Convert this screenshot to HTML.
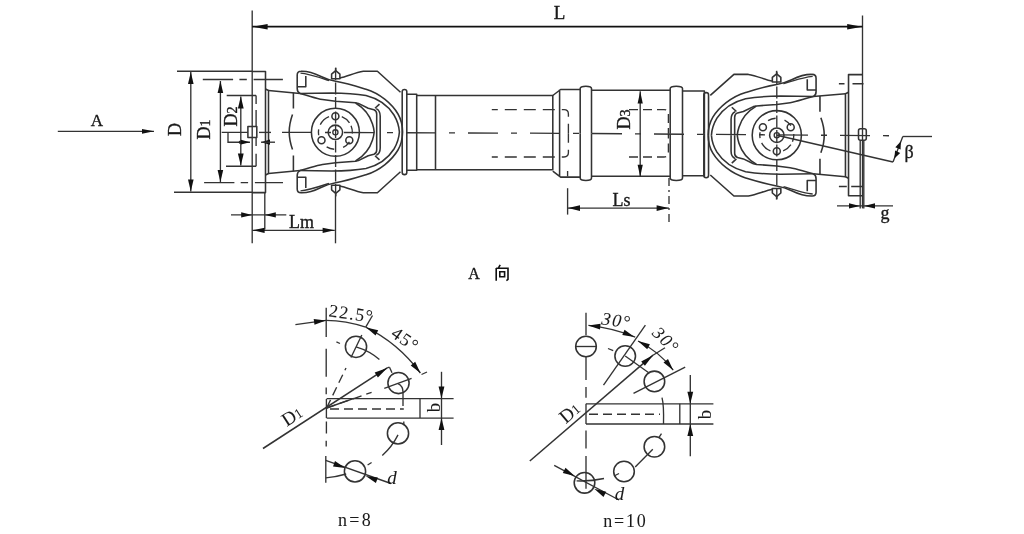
<!DOCTYPE html>
<html><head><meta charset="utf-8"><style>
html,body{margin:0;padding:0;background:#fff;overflow:hidden;}
svg{display:block;will-change:transform;}
.s{fill:none;stroke:#333;stroke-width:1.55;stroke-linejoin:round;}
.t{fill:none;stroke:#333;stroke-width:1.35;}
.L{fill:none;stroke:#111;stroke-width:1.7;}
.f{fill:#111;stroke:none;}
.d2{fill:none;stroke:#333;stroke-width:1.35;stroke-dasharray:9 5;}
.d3{fill:none;stroke:#333;stroke-width:1.35;stroke-dasharray:8 4 2 4;}
.c8{fill:none;stroke:#333;stroke-width:1.35;stroke-dasharray:27 9 6 9;}
.K{fill:none;stroke:#111;stroke-width:1.6;}
.c{fill:none;stroke:#333;stroke-width:1.35;stroke-dasharray:30 13 6 13;}
text{font-family:"Liberation Serif",serif;fill:#1a1a1a;stroke:#1a1a1a;stroke-width:0.35;}
text.lt{stroke-width:0.05;}
</style></head><body>
<svg width="1024" height="534" viewBox="0 0 1024 534">
<defs><g id="yt">
<path class="s" d="M252,71.4 H265.5 V132"/>
<path class="s" d="M265.5,89 L268.5,90.5 V132"/>
<path class="s" d="M268.5,90.5 L300,93.4"/>
<path class="s" d="M305.8,76 V86.8 H297.2"/>
<path class="s" d="M300,93.4 C298,92.5 297.2,90.5 297.2,88.5 V75 C297.2,72.6 298.6,71.2 301,71.2 C307,71 314,73 321,76.5 C326,79 330,80.3 335.7,81.3 C348,83.5 357,86.5 366,89.3 C380,93.5 392,104 398,114 C401.5,120 402.5,126 402.6,132"/>
<path class="t" d="M300.5,73.2 C308,73.6 318,77 329,80.6"/>
<path class="s" d="M339.9,77.9 C347,76.5 355,72.5 363.3,71.2 L377.4,71.2 L400.5,92.2"/>
<path class="s" d="M331.6,78.8 V74.2 L335.7,70.6 L339.9,74.2 V78.8 Z" fill="#fff"/>
<path class="s" d="M335.7,70.6 V67.6"/>
<path class="s" d="M300,93.4 L331.8,92.9 C345,93 357,94 366,95.5 C380,99 389,107 394,115 C397.5,121 399,126 399.4,132"/>
<path class="s" d="M300,93.4 C310,96 316,98.5 322.5,99.5 L335.6,101.3 L355.3,102.7 L358.4,103.4 L368.2,108.3 L373.9,109.7 C376,110.5 376.7,112 376.7,114 V132"/>
<path class="s" d="M355.6,103 C364,108 370,116 372.5,124 C373.5,127 374,130 374.2,132"/>
<path class="s" d="M375,108.3 L379.5,104.1"/>
<path class="s" d="M376.2,108.6 C379,110 380.2,112 380.2,116 V132"/>
<path class="s" d="M293.4,92.8 V108.5 M292.5,114.5 C290.2,121 289.2,127 289.2,132"/>
<path class="s" d="M402.2,132 V91.6 Q402.2,89.4 404.5,89.4 Q406.8,89.4 406.8,91.6 V132"/>
</g></defs>
<g transform=""><use href="#yt"/><use href="#yt" transform="translate(0,264) scale(1,-1)"/></g>
<g transform="translate(1120.4,3.2) scale(-1.024,1)"><use href="#yt"/><use href="#yt" transform="translate(0,264) scale(1,-1)"/></g>
<circle class="s" cx="335.4" cy="132.3" r="24.0"/>
<circle class="s" cx="335.4" cy="132.3" r="7.2"/>
<circle class="t" cx="335.4" cy="132.3" r="2.6"/>
<path class="t" d="M320.25,124.58 A17,17 0 0 1 329.03,116.54 M341.77,116.54 A17,17 0 0 1 349.49,122.79 M351.05,125.66 A17,17 0 0 1 352.36,133.49 M349.49,141.81 A17,17 0 0 1 343.12,147.45 M334.21,149.26 A17,17 0 0 1 326.64,146.87 M318.66,135.25 A17,17 0 0 1 318.66,129.35 "/>
<circle class="s" cx="335.4" cy="116.3" r="3.5" fill="#fff"/>
<circle class="s" cx="349.3" cy="140.3" r="3.5" fill="#fff"/>
<circle class="s" cx="321.5" cy="140.3" r="3.5" fill="#fff"/>
<circle class="s" cx="776.8" cy="135.2" r="24.6"/>
<circle class="s" cx="776.8" cy="135.2" r="7.2"/>
<circle class="t" cx="776.8" cy="135.2" r="2.6"/>
<path class="t" d="M770.43,150.96 A17,17 0 0 1 761.65,142.92 M790.89,144.71 A17,17 0 0 1 783.17,150.96 M793.76,134.01 A17,17 0 0 1 792.45,141.84 M784.52,120.05 A17,17 0 0 1 790.89,125.69 M768.04,120.63 A17,17 0 0 1 775.61,118.24 M760.06,138.15 A17,17 0 0 1 760.06,132.25 "/>
<circle class="s" cx="776.8" cy="151.2" r="3.5" fill="#fff"/>
<circle class="s" cx="790.7" cy="127.2" r="3.5" fill="#fff"/>
<circle class="s" cx="762.9" cy="127.2" r="3.5" fill="#fff"/>
<path class="s" d="M416.7,95.4 H552.8 V169.7 H416.7"/>
<path class="s" d="M435.5,95.4 V169.7"/>
<path class="s" d="M406.8,94.3 H416.7 V170.2 H406.8"/>
<defs><g id="sl">
<path class="s" d="M552.8,95.5 L560.6,89.5 H580.2 M559.6,89.5 V133.3"/>
<path class="s" d="M580.2,133.3 V88.6 Q580.2,86.2 585.9,86.2 Q591.5,86.2 591.5,88.6 V133.3"/>
<path class="s" d="M591.5,90.3 H670.2"/>
<path class="s" d="M670.2,133.3 V88.6 Q670.2,86.2 676.3,86.2 Q682.5,86.2 682.5,88.6 V133.3"/>
<path class="s" d="M682.5,90.9 H704.4 V133.3"/>
<path class="d2" style="stroke-dasharray:12 7;stroke-dashoffset:6" d="M491.8,109.6 H564 Q568.4,109.6 568.4,114 V133.3"/>
<path class="d2" d="M629,109.6 H664 Q668.4,109.6 668.4,114 V133.3"/>
</g></defs>
<use href="#sl"/><use href="#sl" transform="translate(0,266.6) scale(1,-1)"/>
<path class="c" d="M282,132.3 L560,133.3 L900,135.8"/>
<path class="t" d="M259,132.4 H271"/>
<path class="t" style="stroke-dasharray:12 2.5" d="M335.6,68 V196"/>
<path class="t" style="stroke-dasharray:12 2.5" d="M776.8,72 V199"/>
<path class="t" d="M335.5,196.0 L335.5,243.3"/>
<path class="t" d="M252.2,10.5 L252.2,243.3"/>
<path class="t" d="M862.5,15.5 L862.5,208.4"/>
<path class="L" d="M252.2,26.7 L862.5,26.7"/>
<path class="f" d="M252.6,26.7 L267.6,23.9 L267.6,29.5 Z"/>
<path class="f" d="M862.2,26.7 L847.2,29.5 L847.2,23.9 Z"/>
<path class="s" d="M177.0,71.3 L252.0,71.3"/>
<path class="s" d="M174.0,192.3 L252.0,192.3"/>
<path class="t" d="M190.8,72.0 L190.8,191.5"/>
<path class="f" d="M190.8,72.0 L193.6,84.0 L188.0,84.0 Z"/>
<path class="f" d="M190.8,191.5 L188.0,179.5 L193.6,179.5 Z"/>
<path class="t" style="stroke-dasharray:30.3 6.3 7.4 6.8 29.3 100" d="M202.8,79.5 H283 M204.1,182.6 H283"/>
<path class="t" d="M220.4,81.0 L220.4,182.0"/>
<path class="f" d="M220.4,81.0 L223.2,93.0 L217.6,93.0 Z"/>
<path class="f" d="M220.4,182.0 L217.6,170.0 L223.2,170.0 Z"/>
<path class="t" d="M226.7,95.5 H256.1 M226,166.2 H256.1"/>
<path class="t" d="M256.1,95.5 V104 M256.1,110 V126.3 M256.1,137.6 V146 M256.1,153.7 V166.2"/>
<path class="t" d="M240.8,96.5 L240.8,165.5"/>
<path class="f" d="M240.8,96.5 L243.7,108.5 L237.9,108.5 Z"/>
<path class="f" d="M240.8,165.5 L237.9,153.5 L243.7,153.5 Z"/>
<rect class="s" x="247.9" y="126.5" width="8.9" height="11" fill="#fff"/>
<path class="t" d="M221.7,132.4 H247.9 M228,132.4 V142.2 H250"/>
<circle cx="240.4" cy="142.2" r="1.7" fill="#222"/>
<path class="f" d="M250.0,142.2 L241.0,144.6 L241.0,139.8 Z"/>
<path class="f" d="M261.0,142.2 L270.0,139.6 L270.0,144.8 Z"/>
<path class="t" d="M261.0,142.2 L275.0,142.2"/>
<path class="t" d="M57.8,131.3 L154.0,131.3"/>
<path class="f" d="M154.0,131.3 L142.0,133.7 L142.0,128.9 Z"/>
<path class="t" d="M264.8,192.3 L264.8,229.6"/>
<path class="t" d="M231.0,214.9 L286.3,214.9"/>
<path class="f" d="M252.2,214.9 L241.2,217.5 L241.2,212.3 Z"/>
<path class="f" d="M264.8,214.9 L275.8,212.3 L275.8,217.5 Z"/>
<path class="t" d="M252.2,230.3 L334.8,230.3"/>
<path class="f" d="M252.6,230.3 L264.6,227.7 L264.6,232.9 Z"/>
<path class="f" d="M334.6,230.3 L322.6,232.9 L322.6,227.7 Z"/>
<path class="t" d="M838.9,83.7 H844.5 M852.5,83.7 H863.5 M838.9,186.5 H846.8 M851.2,186.5 H862.6"/>
<rect class="s" x="858.5" y="128.7" width="7.8" height="11.5" rx="2" fill="#fff"/>
<path class="t" d="M860.2,140.2 V208.4 M863.8,140.2 V208.4"/>
<path class="t" d="M837.0,205.9 L893.0,205.9"/>
<path class="f" d="M860.0,205.9 L849.0,208.5 L849.0,203.3 Z"/>
<path class="f" d="M864.0,205.9 L875.0,203.3 L875.0,208.5 Z"/>
<path class="s" d="M776.8,135.2 L893.0,162.0"/>
<path class="t" d="M893.0,162.0 L902.8,136.5"/>
<path class="t" d="M902.8,136.5 L932.0,136.5"/>
<path class="f" d="M900.8,141.5 L900.6,149.5 L895.3,147.3 Z"/>
<path class="f" d="M894.3,158.5 L895.1,150.5 L900.2,153.1 Z"/>
<path class="t" d="M567.6,188.2 L567.6,214.6"/>
<path class="t" d="M567.6,171.0 L567.6,176.5"/>
<path class="d3" d="M669,178 V222"/>
<path class="t" d="M567.6,208.1 L669.0,208.1"/>
<path class="f" d="M568.0,208.1 L580.0,205.2 L580.0,211.0 Z"/>
<path class="f" d="M668.6,208.1 L656.6,211.0 L656.6,205.2 Z"/>
<path class="t" d="M640.2,91.3 L640.2,176.9"/>
<path class="f" d="M640.2,91.5 L642.8,103.5 L637.6,103.5 Z"/>
<path class="f" d="M640.2,176.7 L637.6,164.7 L642.8,164.7 Z"/>
<text x="559.5" y="12.5" font-size="19" text-anchor="middle" dominant-baseline="central">L</text>
<text x="97" y="120" font-size="17" text-anchor="middle" dominant-baseline="central">A</text>
<text x="175" y="129.5" font-size="18" text-anchor="middle" dominant-baseline="central" transform="rotate(-90 175 129.5)">D</text>
<text x="204" y="129.5" font-size="18" text-anchor="middle" dominant-baseline="central" transform="rotate(-90 204 129.5)">D<tspan font-size="14" dy="0.5">1</tspan></text>
<text x="231" y="116.5" font-size="18" text-anchor="middle" dominant-baseline="central" transform="rotate(-90 231 116.5)">D<tspan font-size="14" dy="0.5">2</tspan></text>
<text x="624" y="119.5" font-size="18" text-anchor="middle" dominant-baseline="central" transform="rotate(-90 624 119.5)">D<tspan font-size="14" dy="0.5">3</tspan></text>
<text x="301.5" y="222" font-size="18" text-anchor="middle" dominant-baseline="central">Lm</text>
<text x="621.5" y="200" font-size="18" text-anchor="middle" dominant-baseline="central">Ls</text>
<text x="885" y="213" font-size="18" text-anchor="middle" dominant-baseline="central">g</text>
<text x="909" y="152" font-size="18" text-anchor="middle" dominant-baseline="central">β</text>
<text x="474" y="273.5" font-size="16" text-anchor="middle" dominant-baseline="central">A</text>
<path class="t" d="M326.2,307.7 V337 M326.2,348.7 V376.7 M326.2,387.5 V394.3 M326.4,399 V418 M326.4,421.6 V433.4 M326.2,440.7 V446.6"/>
<path class="t" d="M325.8,456.0 L325.8,482.7"/>
<path class="t" d="M326,320.4 Q346,320.6 365.7,327.2"/>
<path class="t" d="M365.7,327.2 Q398,343 420.4,373"/>
<path class="t" d="M295.4,324.7 L326.0,320.4"/>
<path class="f" d="M326.0,320.4 L314.5,324.8 L313.7,319.1 Z"/>
<path class="f" d="M366.2,327.4 L378.2,330.3 L375.6,335.4 Z"/>
<path class="f" d="M420.4,373.0 L410.7,365.4 L415.2,361.8 Z"/>
<path class="t" d="M365.7,327.2 L372.5,315.5"/>
<path class="t" d="M421.5,374.5 L427.0,372.0"/>
<circle class="s" cx="356" cy="346.8" r="10.6"/>
<circle class="s" cx="398.5" cy="383" r="10.6"/>
<circle class="s" cx="398" cy="433.4" r="10.6"/>
<circle class="s" cx="355" cy="471.4" r="10.6"/>
<path class="t" d="M351.0,357.5 L361.8,335.0"/>
<path class="t" d="M336.4,341.9 L340.0,343.5"/>
<path class="t" d="M356,346.8 Q370,351 379.4,359.5"/>
<path class="t" d="M384.3,388.4 L411.6,378.3"/>
<path class="t" d="M387.2,367.9 L389.5,367.2"/>
<path class="t" d="M389.5,367.2 L392.0,372.8"/>
<path class="t" d="M398,383.6 Q403,386 403,392 V406"/>
<path class="t" d="M382.3,455.4 Q392,447 398,434.9"/>
<path class="t" d="M403.8,421.6 L403.8,425.0"/>
<path class="t" d="M326.6,398.6 L453.6,398.6"/>
<path class="t" d="M326.6,418.1 L453.6,418.1"/>
<path class="t" d="M420.0,398.6 L420.0,418.1"/>
<path class="d2" d="M330,409 H403.8"/>
<path class="t" d="M326.6,408.0 L354.0,398.4"/>
<path class="s" d="M263.0,448.5 L387.2,367.9"/>
<path class="f" d="M387.2,367.9 L377.9,377.4 L374.7,372.6 Z"/>
<path class="d2" d="M326.6,408 L346,368"/>
<path class="d2" d="M326.6,408 L371.6,392.3"/>
<path class="t" d="M441.5,371.8 L441.5,445.0"/>
<path class="f" d="M441.5,398.6 L438.6,386.6 L444.4,386.6 Z"/>
<path class="f" d="M441.5,418.1 L444.4,430.1 L438.6,430.1 Z"/>
<path class="t" d="M325.7,460.3 L391.0,483.5"/>
<path class="f" d="M345.2,468.0 L333.0,466.4 L335.0,461.1 Z"/>
<path class="f" d="M365.7,475.9 L377.9,477.5 L375.9,482.9 Z"/>
<path class="t" d="M325.7,477.9 Q336,477 346.2,474"/>
<path class="t" d="M367.6,465.0 L371.6,462.5"/>
<path class="t" d="M586,312.7 V335.2 M586,357 V380 M586,387 V397.7 M586,403.8 V424 M586,430.5 V448.4 M586,456 V488.7"/>
<circle class="s" cx="586" cy="346.5" r="10.3"/>
<circle class="s" cx="625.2" cy="356" r="10.3"/>
<circle class="s" cx="654.4" cy="381.4" r="10.3"/>
<circle class="s" cx="654.4" cy="446.7" r="10.3"/>
<circle class="s" cx="624" cy="471.5" r="10.3"/>
<circle class="s" cx="584.5" cy="482.8" r="10.3"/>
<path class="t" d="M575.5,346.5 L596.5,346.5"/>
<path class="t" d="M588.4,325.4 Q613,328 635.2,337.1"/>
<path class="t" d="M638,341 Q660,352 673.2,370.2"/>
<path class="f" d="M588.4,325.4 L600.6,323.8 L600.0,329.6 Z"/>
<path class="f" d="M634.5,337.0 L622.3,335.1 L624.5,329.8 Z"/>
<path class="f" d="M638.0,341.0 L649.9,344.2 L647.2,349.2 Z"/>
<path class="f" d="M673.2,370.2 L663.5,362.5 L668.0,359.0 Z"/>
<path class="t" d="M603.5,385.2 L645.4,325.2"/>
<path class="t" d="M625.2,356.0 L648.4,372.5"/>
<path class="t" d="M633.5,393.4 L685.2,367.2"/>
<path class="t" d="M608.0,348.5 L613.2,350.7"/>
<path class="s" d="M529.8,461.0 L653.0,355.2"/>
<path class="t" d="M653.0,355.2 L665.0,347.7"/>
<path class="f" d="M653.0,355.2 L644.9,365.8 L641.2,361.4 Z"/>
<path class="t" d="M586.0,403.8 L713.4,403.8"/>
<path class="t" d="M586.0,424.0 L713.4,424.0"/>
<path class="d2" d="M589,414.2 H660"/>
<path class="t" d="M662,397.6 Q664,405 663.5,424"/>
<path class="t" d="M679.8,403.8 L679.8,424.0"/>
<path class="t" d="M690.3,375.0 L690.3,456.2"/>
<path class="f" d="M690.3,403.8 L687.4,391.8 L693.2,391.8 Z"/>
<path class="f" d="M690.3,424.0 L693.2,436.0 L687.4,436.0 Z"/>
<path class="t" d="M635.2,467.0 L652.8,449.3"/>
<path class="t" d="M659.2,437.2 L661.5,433.6"/>
<path class="t" d="M614.0,476.0 L619.0,473.5"/>
<path class="t" d="M554.2,465.3 L619.0,500.0"/>
<path class="f" d="M574.7,476.0 L562.8,472.9 L565.5,467.8 Z"/>
<path class="f" d="M594.2,488.7 L606.2,491.8 L603.5,496.9 Z"/>
<path class="t" d="M576.6,480.9 Q590,481.5 604,478.5"/>
<text x="351.5" y="313.5" font-size="18" text-anchor="middle" dominant-baseline="central" transform="rotate(8 351.5 313.5)" class="lt" letter-spacing="1.3">22.5°</text>
<text x="405.5" y="339.5" font-size="18" text-anchor="middle" dominant-baseline="central" transform="rotate(35 405.5 339.5)" class="lt" letter-spacing="1.5">45°</text>
<text x="292" y="416" font-size="19" text-anchor="middle" dominant-baseline="central" transform="rotate(-33 292 416)" class="lt">D<tspan font-size="14" dy="1">1</tspan></text>
<text x="433" y="407.5" font-size="19" text-anchor="middle" dominant-baseline="central" transform="rotate(-90 433 407.5)" class="lt">b</text>
<text x="392" y="477.5" font-size="19" text-anchor="middle" dominant-baseline="central" font-style="italic" class="lt">d</text>
<text x="355.5" y="519.5" font-size="18" text-anchor="middle" dominant-baseline="central" class="lt" letter-spacing="2.2">n=8</text>
<text x="616.6" y="320.5" font-size="18" text-anchor="middle" dominant-baseline="central" font-style="italic" transform="rotate(8 616.6 320.5)" class="lt" letter-spacing="1.5">30°</text>
<text x="666" y="340.2" font-size="18" text-anchor="middle" dominant-baseline="central" font-style="italic" transform="rotate(45 666 340.2)" class="lt" letter-spacing="1.5">30°</text>
<text x="569.5" y="412.5" font-size="19" text-anchor="middle" dominant-baseline="central" transform="rotate(-40 569.5 412.5)" class="lt">D<tspan font-size="14" dy="1">1</tspan></text>
<text x="704.6" y="414.5" font-size="19" text-anchor="middle" dominant-baseline="central" transform="rotate(-90 704.6 414.5)" class="lt">b</text>
<text x="619.5" y="493" font-size="19" text-anchor="middle" dominant-baseline="central" font-style="italic" class="lt">d</text>
<text x="625.5" y="520.5" font-size="18" text-anchor="middle" dominant-baseline="central" class="lt" letter-spacing="1.8">n=10</text>
<path class="K" d="M500.2,264.8 L498.6,267.6 M496.2,268 V280.8 M496.2,268.3 H508 V279.4 L506.4,280.6 M499.8,271.8 H504.6 V276.8 H499.8 Z"/>
</svg></body></html>
